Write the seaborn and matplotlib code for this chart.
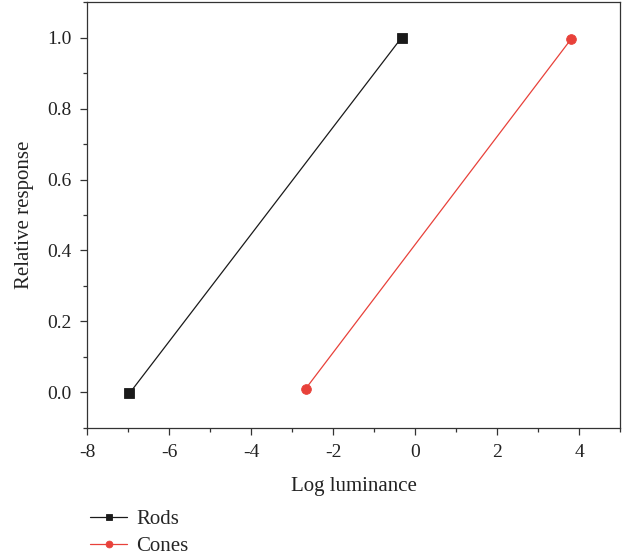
import matplotlib
matplotlib.use("Agg")
import matplotlib.pyplot as plt
import seaborn as sns
import pandas as pd
from matplotlib.ticker import MultipleLocator

sns.set_theme(style="ticks")
plt.rcParams['font.family'] = ['Liberation Serif', 'DejaVu Serif']

rods_x = [-6.97, -0.33]
rods_y = [-0.003, 1.0]
cones_x = [-2.67, 3.80]
cones_y = [0.010, 0.995]
series_names = ["Rods", "Cones"]
colors = ["#1a1a1a", "#e8413a"]
markers = ["s", "o"]

df = pd.DataFrame({
    "x": rods_x + cones_x,
    "y": rods_y + cones_y,
    "series": [series_names[0]] * len(rods_x) + [series_names[1]] * len(cones_x),
})

fig = plt.figure(figsize=(6.32, 5.57), dpi=100)
ax = fig.add_axes([0.138, 0.232, 0.843, 0.764])

for name, c, m in zip(series_names, colors, markers):
    sub = df[df.series == name]
    sns.lineplot(data=sub, x="x", y="y", ax=ax, color=c, marker=m,
                 markersize=7, markeredgewidth=0.6, markeredgecolor=c,
                 linewidth=0.9, label=name, sort=False, legend=False)

ax.set_xlim(-8, 5)
ax.set_ylim(-0.1, 1.1)
ax.xaxis.set_major_locator(MultipleLocator(2))
ax.xaxis.set_minor_locator(MultipleLocator(1))
ax.yaxis.set_major_locator(MultipleLocator(0.2))
ax.yaxis.set_minor_locator(MultipleLocator(0.1))
ax.set_yticks([0.0, 0.2, 0.4, 0.6, 0.8, 1.0])
ax.set_yticklabels(["0.0", "0.2", "0.4", "0.6", "0.8", "1.0"])
ax.set_xticks([-8, -6, -4, -2, 0, 2, 4])
ax.set_xticklabels(["-8", "-6", "-4", "-2", "0", "2", "4"])
ax.set_xlim(-8, 5)
ax.tick_params(axis="both", which="major", direction="out", length=5, width=0.9,
               labelsize=14, color="#333333", labelcolor="#222222")
ax.tick_params(axis="x", which="major", pad=7)
ax.tick_params(axis="y", which="major", pad=6)
ax.tick_params(axis="both", which="minor", direction="out", length=3, width=0.9,
               color="#333333")
for s in ax.spines.values():
    s.set_linewidth(0.9)
    s.set_color("#333333")

ax.set_xlabel("Log luminance", fontsize=15, color="#222222", labelpad=11)
ax.set_ylabel("Relative response", fontsize=15, color="#222222", labelpad=10)

handles, labels = ax.get_legend_handles_labels()
fig.legend(handles, labels, loc="upper left", bbox_to_anchor=(0.143, 0.085),
           frameon=False, fontsize=15, handlelength=1.75, handletextpad=0.45,
           labelspacing=0.35, borderaxespad=0, borderpad=0, markerscale=0.7)

fig.savefig("out.png", dpi=100)
